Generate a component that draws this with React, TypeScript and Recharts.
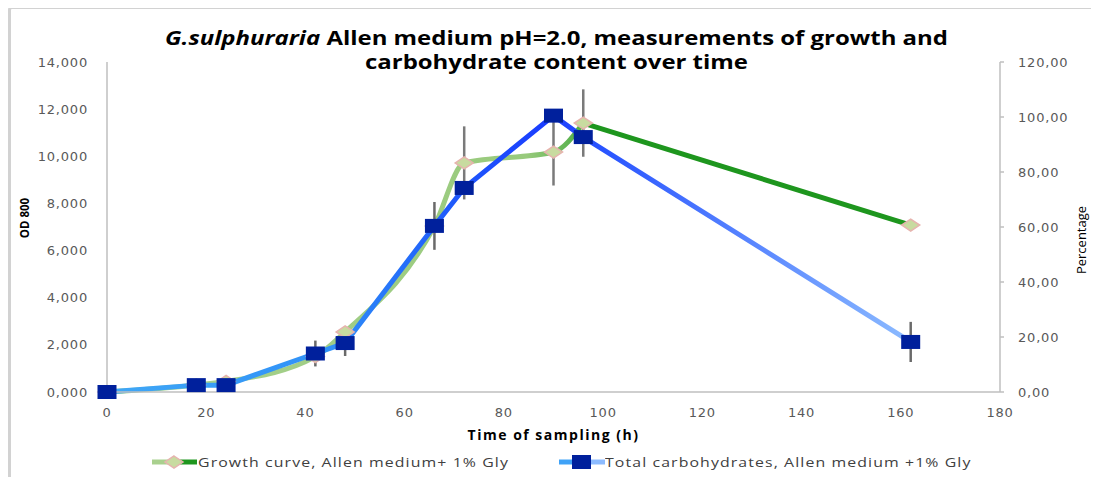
import React from 'react';
import { ComposedChart, Line, XAxis, YAxis, ErrorBar, Legend } from 'recharts';

// sampling times (h) and the two measured series
const hours = [0, 18, 24, 42, 48, 66, 72, 90, 96, 162];
const growthOD = [0, 0.3, 0.45, 1.5, 2.55, 7.04, 9.72, 10.18, 11.41, 7.08];
const growthErr = [0, 0, 0, 0, 0, 0, 1.55, 1.42, 1.43, 0];
const carbsPct = [0, 2.5, 2.5, 14.0, 17.8, 60.4, 74.2, 100.5, 92.7, 18.2];
const carbsErr = [0, 0, 0, 4.7, 4.7, 8.7, 0, 0, 0, 7.3];

const xTicks = [0, 20, 40, 60, 80, 100, 120, 140, 160, 180];
const odTicks = [0, 2, 4, 6, 8, 10, 12, 14];
const pctTicks = [0, 20, 40, 60, 80, 100, 120];

const growthName = 'Growth curve, Allen medium+ 1% Gly';
const carbsName = 'Total carbohydrates, Allen medium +1% Gly';

// the growth curve is smoothed up to 96 h, the last stretch is a straight dark green segment
const tailStart = 8;

const data = hours.map((h, i) => ({
  h,
  od: i <= tailStart ? growthOD[i] : null,
  odTail: i >= tailStart ? growthOD[i] : null,
  odErr: growthErr[i],
  pct: carbsPct[i],
  pctErr: carbsErr[i],
}));

const tickStyle = { fontFamily: 'DejaVu Sans', fontSize: 13, fill: '#595959', letterSpacing: 0.8 };
const axisGrey = '#BFBFBF';

const diamondPts = (cx: number, cy: number) =>
  `${cx},${cy - 6} ${cx + 9},${cy} ${cx},${cy + 6} ${cx - 9},${cy}`;

const Diamond = (props: any) => {
  const { cx, cy, index } = props;
  if (cx == null || cy == null) return <g key={`d-${index}`} />;
  return <polygon key={`d-${index}`} points={diamondPts(cx, cy)} fill="#C8DBA0" stroke="#E6B3AE" strokeWidth={1.5} />;
};

const TailDiamond = (props: any) => {
  if (props.index !== hours.length - 1) return <g key={`t-${props.index}`} />;
  return Diamond(props);
};

const Square = (props: any) => {
  const { cx, cy, index } = props;
  if (cx == null || cy == null) return <g key={`s-${index}`} />;
  return <rect key={`s-${index}`} x={cx - 9.5} y={cy - 7} width={19} height={14} fill="#00209C" />;
};

const PctLabel = () => (
  <text
    x={1081}
    y={240}
    transform="rotate(-90 1081 240)"
    textAnchor="middle"
    dominantBaseline="central"
    fontFamily="Open Sans"
    fontSize={13}
    fill="#000"
  >
    Percentage
  </text>
);

const legendText = {
  position: 'absolute' as const,
  top: 6,
  letterSpacing: 0.9,
  whiteSpace: 'nowrap' as const,
  transform: 'scaleX(1.22)',
  transformOrigin: '0 0',
};

const LegendContent = () => (
  <div style={{ position: 'relative', width: 1099, height: 30, fontFamily: 'Open Sans', fontSize: 13, color: '#404040' }}>
    <svg width={1099} height={30} style={{ position: 'absolute', left: 0, top: 0 }}>
      <line x1={152} y1={15} x2={174} y2={15} stroke="#A9D08E" strokeWidth={5} />
      <line x1={174} y1={15} x2={197} y2={15} stroke="#1E961E" strokeWidth={5} />
      <polygon points={diamondPts(174, 15)} fill="#C8DBA0" stroke="#E6B3AE" strokeWidth={1.5} />
      <line x1={559} y1={15} x2={582} y2={15} stroke="#3FA2F7" strokeWidth={5} />
      <line x1={582} y1={15} x2={605} y2={15} stroke="#8CBBFF" strokeWidth={5} />
      <rect x={572} y={8} width={19} height={14} fill="#00209C" />
    </svg>
    <span style={{ ...legendText, left: 198 }}>{growthName}</span>
    <span style={{ ...legendText, left: 605 }}>{carbsName}</span>
  </div>
);

export default function App() {
  return (
    <div style={{ position: 'relative', margin: -8, width: 1099, height: 485, background: '#fff' }}>
      <div
        style={{
          position: 'absolute',
          left: 8,
          top: 6,
          right: 0,
          bottom: 0,
          borderTop: '3px solid #D2D2D2',
          borderLeft: '3px solid #D2D2D2',
          borderTopLeftRadius: 4,
        }}
      />
      <div
        style={{
          position: 'absolute',
          left: 7,
          top: 26,
          width: 1099,
          textAlign: 'center',
          fontFamily: 'Open Sans',
          fontWeight: 700,
          fontSize: 19,
          lineHeight: '24px',
          color: '#000',
          transform: 'scaleX(1.26)',
          transformOrigin: '50% 0',
          zIndex: 2,
        }}
      >
        <div>
          <i>G.sulphuraria</i> Allen medium pH=2.0, measurements of growth and
        </div>
        <div>carbohydrate content over time</div>
      </div>
      <div
        style={{
          position: 'absolute',
          left: 25 - 60,
          top: 218 - 10,
          width: 120,
          height: 20,
          lineHeight: '20px',
          textAlign: 'center',
          transform: 'rotate(-90deg)',
          whiteSpace: 'nowrap',
          fontFamily: 'Open Sans',
          fontWeight: 700,
          fontSize: 11.5,
          color: '#000',
          zIndex: 2,
        }}
      >
        OD 800
      </div>

      <ComposedChart width={1099} height={485} data={data} margin={{ top: 62, right: 0, bottom: 8, left: 0 }}>
        <defs>
          <linearGradient id="carbGrad" x1="0" y1="0" x2="1" y2="0">
            <stop offset="0%" stopColor="#40A8F6" />
            <stop offset="28%" stopColor="#2F90F8" />
            <stop offset="42%" stopColor="#1F5CFB" />
            <stop offset="55%" stopColor="#1A3CFF" />
            <stop offset="62%" stopColor="#2A55FF" />
            <stop offset="100%" stopColor="#8CBBFF" />
          </linearGradient>
          <linearGradient id="growGrad" x1="0" y1="0" x2="1" y2="0">
            <stop offset="0%" stopColor="#AAD290" />
            <stop offset="88%" stopColor="#98CA7C" />
            <stop offset="100%" stopColor="#4DAE45" />
          </linearGradient>
        </defs>
        <XAxis
          type="number"
          dataKey="h"
          domain={[0, 180]}
          ticks={xTicks}
          height={55}
          axisLine={{ stroke: axisGrey, strokeWidth: 1.5 }}
          tickLine={false}
          tickMargin={10}
          tick={tickStyle}
          label={{
            value: 'Time of sampling (h)',
            position: 'insideTop',
            offset: 38,
            style: { fontFamily: 'Open Sans', fontWeight: 700, fontSize: 14, fill: '#000', letterSpacing: 1.5 },
          }}
        />
        <YAxis
          yAxisId="od"
          orientation="left"
          width={107}
          domain={[0, 14]}
          ticks={odTicks}
          tickFormatter={(v: number) => v.toFixed(3).replace('.', ',')}
          axisLine={{ stroke: axisGrey, strokeWidth: 1.5 }}
          tickLine={false}
          tickMargin={13}
          tick={tickStyle}
        />
        <YAxis
          yAxisId="pct"
          orientation="right"
          width={99}
          domain={[0, 120]}
          ticks={pctTicks}
          tickFormatter={(v: number) => v.toFixed(2).replace('.', ',')}
          axisLine={{ stroke: axisGrey, strokeWidth: 1.5 }}
          tickLine={{ stroke: axisGrey, strokeWidth: 1.5 }}
          tickSize={4}
          tickMargin={14}
          tick={tickStyle}
          label={<PctLabel />}
        />
        <Legend verticalAlign="bottom" content={<LegendContent />} wrapperStyle={{ left: 0, width: 1099, height: 30 }} />
        <Line
          yAxisId="od"
          dataKey="odTail"
          name={growthName}
          legendType="none"
          type="linear"
          stroke="#1E961E"
          strokeWidth={5}
          dot={TailDiamond}
          activeDot={false}
          connectNulls={false}
          isAnimationActive={false}
        />
        <Line
          yAxisId="od"
          dataKey="od"
          name={growthName}
          type="monotone"
          stroke="url(#growGrad)"
          strokeWidth={5}
          dot={Diamond}
          activeDot={false}
          isAnimationActive={false}
        >
          <ErrorBar dataKey="odErr" direction="y" width={0} stroke="#7A7A7A" strokeWidth={2.5} isAnimationActive={false} />
        </Line>
        <Line
          yAxisId="pct"
          dataKey="pct"
          name={carbsName}
          type="linear"
          stroke="url(#carbGrad)"
          strokeWidth={5}
          dot={Square}
          activeDot={false}
          isAnimationActive={false}
        >
          <ErrorBar dataKey="pctErr" direction="y" width={0} stroke="#6A6A6A" strokeWidth={2.5} isAnimationActive={false} />
        </Line>
      </ComposedChart>
    </div>
  );
}
